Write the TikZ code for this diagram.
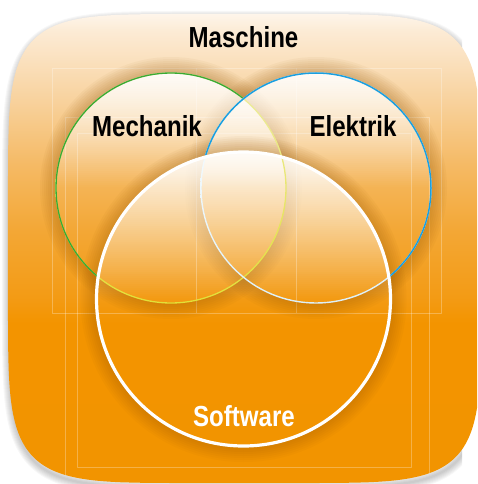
\documentclass[tikz,border=0pt]{standalone}
\usepackage{fontspec}
\newfontfamily\labelfont[FakeStretch=0.83]{Liberation Sans}

% colours
\definecolor{or0}{HTML}{F29400}
\definecolor{or1}{HTML}{F39400}
\definecolor{or2}{HTML}{F39B15}
\definecolor{or3}{HTML}{F3A735}
\definecolor{or4}{HTML}{F5BA65}
\definecolor{or5}{HTML}{F8D3A0}
\definecolor{or6}{HTML}{FCEBD5}
\definecolor{or7}{HTML}{FEF5EA}
\definecolor{mechgreen}{HTML}{3AAA35}
\definecolor{mechyellow}{HTML}{E2E036}
\definecolor{mechpale}{HTML}{EEEDA8}
\definecolor{elekblue}{HTML}{1B9FDF}
\definecolor{elekpale}{HTML}{DDF0F8}
\definecolor{glowcol}{RGB}{150,85,0}

% orange backdrop, light at the top (stops measured from the bottom of the picture)
\pgfdeclareverticalshading{bgshade}{520pt}{%
  color(0pt)=(or0); color(161pt)=(or1); color(187pt)=(or2);
  color(253pt)=(or3); color(320pt)=(or4); color(387pt)=(or5);
  color(453pt)=(or6); color(470pt)=(or7); color(484pt)=(or7)}

% outline of the panel: a squircle |x/a|^6 + |y/b|^6 = 1
\newcommand{\panelpath}{%
  plot[domain=0.01:89.99, samples=90]
    ({244.5+236.5*cos(\x)^(1/3)}, {248.5+234.5*sin(\x)^(1/3)})
  -- plot[domain=89.99:0.01, samples=90]
    ({244.5-236.5*cos(\x)^(1/3)}, {248.5+234.5*sin(\x)^(1/3)})
  -- plot[domain=0.01:89.99, samples=90]
    ({244.5-236.5*cos(\x)^(1/3)}, {248.5-234.5*sin(\x)^(1/3)})
  -- plot[domain=89.99:0.01, samples=90]
    ({244.5+236.5*cos(\x)^(1/3)}, {248.5-234.5*sin(\x)^(1/3)})
  -- cycle}

\tikzset{
  lbl/.style={font=\labelfont\bfseries\fontsize{29}{29}\selectfont,
    inner sep=0pt, anchor=base},
  faint/.style={draw=white, opacity=0.28, line width=0.6pt},
}

% soft dark halo just outside a circle: centre, radius
\newcommand{\circleglow}[2]{%
  \begin{scope}[shift={(0,2)}]
    \foreach \k in {1,...,8}{
      \pgfmathsetmacro\lw{2*\k}
      \pgfmathsetmacro\rr{#2+\k}
      \draw[glowcol, opacity=0.042, line width=\lw pt] (#1) circle (\rr);
    }
  \end{scope}}

% white gloss fading out towards the middle of a circle: cx, cy, r, strips
\newcommand{\circlegloss}[4]{%
  \begin{scope}
    \clip (#1,#2) circle (#3);
    \foreach \i in {0,...,#4}{
      \pgfmathsetmacro\ya{#2-#3+2*\i}
      \pgfmathsetmacro\yb{\ya+2}
      \pgfmathsetmacro\op{max(0,0.9*(1-(2*\i+1)/#3))}
      \fill[white, opacity=\op] (#1-#3,\ya) rectangle (#1+#3,\yb);
    }
  \end{scope}}

\begin{document}
\begin{tikzpicture}[x=1pt,y=-1pt,line join=round]
\useasboundingbox (0,0) rectangle (477,484);
\clip (0,0) rectangle (477,484);

% soft shadow of the panel, kept off the right-hand edge
\begin{scope}
  \clip (0,0) rectangle (462,484);
  \begin{scope}[shift={(1,4)}]
    \foreach \k in {1,...,7}{
      \pgfmathsetmacro\lw{2*\k}
      \draw[black, opacity=0.03, line width=\lw pt] \panelpath;
    }
  \end{scope}
\end{scope}

% panel with its vertical gradient
\begin{scope}
  \clip \panelpath;
  \node[inner sep=0pt, outer sep=0pt, anchor=south west] (panelfill)
    at (-10,484) {\pgfuseshading{bgshade}};
  % faint layout frames
  \draw[faint] (52,68) rectangle (441,313);
  \draw[faint] (196,68) -- (196,313) (296,68) -- (296,313);
  \draw[faint] (65,117) rectangle (429,490);
  \draw[faint] (77,133) rectangle (411,467);
\end{scope}

\coordinate (cM) at (171,188);
\coordinate (cE) at (316,188);
\coordinate (cS) at (243.5,299);

% Mechanik and Elektrik circles: halo and gloss
\circleglow{cM}{115}
\circleglow{cE}{115}
\circlegloss{171}{188}{115}{57}
\circlegloss{316}{188}{115}{57}

% Software circle: halo and gloss
\circleglow{cS}{147}
\circlegloss{243.5}{299}{147}{73}

% Mechanik outline: yellow inside the other circles, green elsewhere
\shade[top color=mechpale, bottom color=mechyellow, even odd rule]
  (cM) circle (115.65) (cM) circle (114.35);
\begin{scope}[even odd rule]
  \clip (0,0) rectangle (477,484) (cE) circle (115);
  \clip (0,0) rectangle (477,484) (cS) circle (147);
  \draw[mechgreen, line width=1.3pt] (cM) circle (115);
\end{scope}

% Elektrik outline: white inside Software, blue elsewhere
\shade[top color=white, bottom color=elekpale, even odd rule]
  (cE) circle (115.7) (cE) circle (114.3);
\begin{scope}[even odd rule]
  \clip (0,0) rectangle (477,484) (cS) circle (147);
  \draw[elekblue, line width=1.5pt] (cE) circle (115);
\end{scope}

% Software outline
\draw[white, line width=3.2pt] (cS) circle (147);

% labels
\node[lbl, text=black] (maschine) at (243.5,48) {Maschine};
\node[lbl, text=black] (mechanik) at (147,136) {Mechanik};
\node[lbl, text=black] (elektrik) at (353,136) {Elektrik};
\node[lbl, text=white] (software) at (244,426) {Software};
\end{tikzpicture}
\end{document}
